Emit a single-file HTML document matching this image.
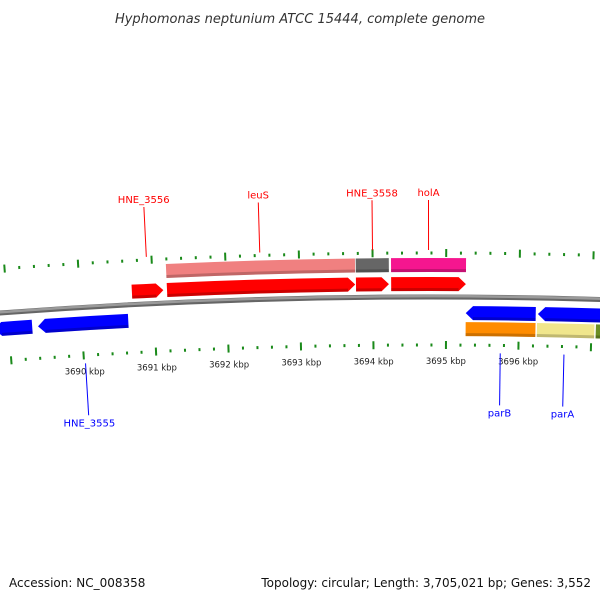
<!DOCTYPE html>
<html><head><meta charset="utf-8"><style>
html,body{margin:0;padding:0;background:#fff;}
svg{display:block;font-family:"DejaVu Sans","Liberation Sans",sans-serif;}
</style></head><body>
<svg id="map" width="600" height="600" viewBox="0 0 600 600" xmlns="http://www.w3.org/2000/svg">
<text x="300" y="23" text-anchor="middle" font-size="13" font-style="italic" fill="#333">Hyphomonas neptunium ATCC 15444, complete genome</text>
<g id="layer"></g>
<text x="9" y="587" font-size="12" fill="#111">Accession: NC_008358</text>
<text x="591" y="587" text-anchor="end" font-size="12" fill="#111">Topology: circular; Length: 3,705,021 bp; Genes: 3,552</text>
</svg>
<script>
// data (kbp)
const fwdGenes = [[3690.71,3691.14],[3691.19,3693.76],[3693.77,3694.22],[3694.25,3695.27]];
const fwdBlocks = [[3691.19,3693.76,'#f08080'],[3693.77,3694.22,'#666666'],[3694.25,3695.27,'#f5168f']];
const revGenes = [[3688.80,3689.32],[3689.40,3690.64],[3695.27,3696.23],[3696.26,3697.30]];
const revBlocks = [[3695.27,3696.23,'#ff8c00'],[3696.25,3697.04,'#f0e68c'],[3697.06,3697.40,'#6b8e23']];
const tickLabels = [3690,3691,3692,3693,3694,3695,3696];
const topLabels = [['HNE_3556',3690.93],['leuS',3692.47],['HNE_3558',3694.0],['holA',3694.76]];
const bottomLabels = [['HNE_3555',3690.02],['parB',3695.75],['parA',3696.63]];

const R=5780, cx=430, cy=297+R, K0=3694.78, RAD=0.01265;
const NS='http://www.w3.org/2000/svg';
const layer=document.getElementById('layer');
function ang(k){return (k-K0)*RAD;}
function pt(k,o){const a=ang(k),r=R+o;return [cx+r*Math.sin(a), cy-r*Math.cos(a)];}
function el(tag,attrs){const e=document.createElementNS(NS,tag);for(const k in attrs)e.setAttribute(k,attrs[k]);layer.appendChild(e);return e;}
function arcBand(k1,k2,o1,o2){
  const a=pt(k1,o2),b=pt(k2,o2),c=pt(k2,o1),d=pt(k1,o1);
  return `M${a[0]},${a[1]} A${R+o2},${R+o2} 0 0 1 ${b[0]},${b[1]} L${c[0]},${c[1]} A${R+o1},${R+o1} 0 0 0 ${d[0]},${d[1]} Z`;
}
function arrow(k1,k2,o1,o2,dir){
  const h=0.1, m=(o1+o2)/2;
  if(dir>0){
    const a=pt(k1,o2),b=pt(k2-h,o2),t=pt(k2,m),c=pt(k2-h,o1),d=pt(k1,o1);
    return `M${a[0]},${a[1]} A${R+o2},${R+o2} 0 0 1 ${b[0]},${b[1]} L${t[0]},${t[1]} L${c[0]},${c[1]} A${R+o1},${R+o1} 0 0 0 ${d[0]},${d[1]} Z`;
  } else {
    const t=pt(k1,m),a=pt(k1+h,o2),b=pt(k2,o2),c=pt(k2,o1),d=pt(k1+h,o1);
    return `M${t[0]},${t[1]} L${a[0]},${a[1]} A${R+o2},${R+o2} 0 0 1 ${b[0]},${b[1]} L${c[0]},${c[1]} A${R+o1},${R+o1} 0 0 0 ${d[0]},${d[1]} Z`;
  }
}
// backbone
{const a=pt(3686,0),b=pt(3700,0);
 const e=el('path',{d:`M${a[0]},${a[1]} A${R},${R} 0 0 1 ${b[0]},${b[1]}`,fill:'none',stroke:'#666','stroke-width':5});
 
 const e2=el('path',{d:`M${a[0]},${a[1]} A${R},${R} 0 0 1 ${b[0]},${b[1]}`,fill:'none',stroke:'#9a9a9a','stroke-width':2.5,transform:'translate(0,-0.8)'});
 }
// ticks
for(let i=0;i<=60;i++){
  const k=3688.6+i*0.2; const kk=Math.round(k*10)/10;
  const major=Math.abs(kk*2-Math.round(kk*2))<1e-6;
  [[44,1],[-48,-1]].forEach(([o,s])=>{
    const len=major?8:3, o1=o-len/2, o2=o+len/2;
    const p=pt(kk,o1),q=pt(kk,o2);
    const e=el('line',{x1:p[0],y1:p[1],x2:q[0],y2:q[1],stroke:'#1a8a1a','stroke-width':2});
    
  });
}
tickLabels.forEach(k=>{const p=pt(k,-67);
  const t=el('text',{x:p[0],y:p[1],'text-anchor':'middle','font-size':8.5,fill:'#222'});t.textContent=k+' kbp';
  });
// blocks
function shade(path){return path;}
fwdBlocks.forEach(([a,b,c])=>{
  const e=el('path',{d:arcBand(a,b,25,39),fill:c});
  const s=el('path',{d:arcBand(a,b,25,28),fill:'#000','fill-opacity':0.2});});
revBlocks.forEach(([a,b,c])=>{
  const e=el('path',{d:arcBand(a,b,-39,-25),fill:c});
  const s=el('path',{d:arcBand(a,b,-39,-36),fill:'#000','fill-opacity':0.2});});
fwdGenes.forEach(([a,b])=>{
  const e=el('path',{d:arrow(a,b,6,20,1),fill:'#ff0000'});
  const s=el('path',{d:arcBand(a,b-0.1,6,9),fill:'#000','fill-opacity':0.2});});
revGenes.forEach(([a,b])=>{
  const e=el('path',{d:arrow(a,b,-23,-9,-1),fill:'#0000ff'});
  const s=el('path',{d:arcBand(a+0.1,b,-23,-20),fill:'#000','fill-opacity':0.2});});
// labels
topLabels.forEach(([n,k])=>{const p=pt(k,47),q=pt(k,97),t=pt(k,101);
  const l=el('line',{x1:p[0],y1:p[1],x2:q[0],y2:q[1],stroke:'#ff0000','stroke-width':1});
  const tx=el('text',{x:t[0],y:t[1],'text-anchor':'middle','font-size':10,fill:'#ff0000'});tx.textContent=n;
  });
bottomLabels.forEach(([n,k])=>{const p=pt(k,-56),q=pt(k,-108),t=pt(k,-119);
  const l=el('line',{x1:p[0],y1:p[1],x2:q[0],y2:q[1],stroke:'#0000ff','stroke-width':1});
  const tx=el('text',{x:t[0],y:t[1],'text-anchor':'middle','font-size':10,fill:'#0000ff'});tx.textContent=n;
  });
</script>
</body></html>
